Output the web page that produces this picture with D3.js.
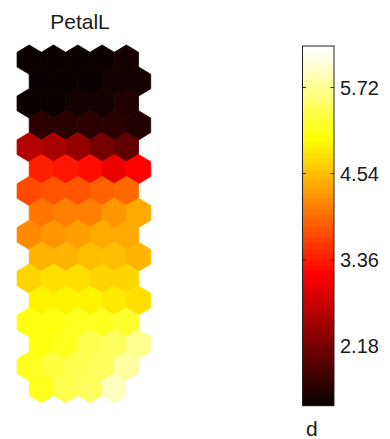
<!DOCTYPE html>
<html>
<head>
<meta charset="utf-8">
<script src="https://cdn.jsdelivr.net/npm/d3@7"></script>
<style>
  body { margin: 0; background: #fff; }
  svg { display: block; }
  .bar rect { shape-rendering: crispEdges; }
  text { font-family: "Liberation Sans", Arial, sans-serif; fill: #1a1a1a; }
</style>
</head>
<body>
<div id="chart"></div>
<script>
// component plane "PetalL", 16 rows x 5 columns, hexagonal SOM grid
var title = "PetalL";
var unitLabel = "d";
var row01 = [1.40, 1.40, 1.38, 1.40, 1.50];
var row02 = [1.40, 1.40, 1.42, 1.48, 1.50];
var row03 = [1.38, 1.40, 1.50, 1.50, 1.52];
var row04 = [1.66, 1.62, 1.60, 1.60, 1.58];
var row05 = [2.64, 2.52, 2.36, 2.16, 2.02];
var row06 = [3.38, 3.33, 3.22, 3.05, 3.20];
var row07 = [3.73, 3.77, 3.80, 3.86, 3.95];
var row08 = [4.00, 4.06, 4.10, 4.21, 4.37];
var row09 = [4.19, 4.28, 4.32, 4.41, 4.44];
var row10 = [4.47, 4.50, 4.52, 4.52, 4.50];
var row11 = [4.74, 4.77, 4.79, 4.68, 4.68];
var row12 = [4.95, 4.93, 4.92, 4.84, 4.78];
var row13 = [5.12, 5.12, 5.17, 5.20, 5.24];
var row14 = [5.13, 5.17, 5.41, 5.48, 5.71];
var row15 = [5.17, 5.33, 5.37, 5.48, 5.79];
var row16 = [5.17, 5.37, 5.48, 5.92, 6.29];
var rows = [row01, row02, row03, row04, row05, row06, row07, row08,
            row09, row10, row11, row12, row13, row14, row15, row16];
var valueRange = [1.357, 6.29];
var tickValues = [2.18, 3.36, 4.54, 5.72];

var width = 390, height = 439;

var svg = d3.select("#chart")
  .append("svg")
    .attr("width", width)
    .attr("height", height);

// MATLAB hot(64)
var m = 64, n = 24;
var hot = d3.range(m).map(function(i) {
  var r = Math.min(1, (i + 1) / n),
      g = Math.max(0, Math.min(1, (i + 1 - n) / n)),
      b = Math.max(0, Math.min(1, (i + 1 - 2 * n) / (m - 2 * n)));
  return d3.rgb(r * 255, g * 255, b * 255).formatHex();
});
var color = function(v) {
  var t = (v - valueRange[0]) / (valueRange[1] - valueRange[0]);
  var i = Math.floor(t * m);
  return hot[Math.max(0, Math.min(m - 1, i))];
};

// grid scales
var x = d3.scaleLinear().domain([0, 4]).range([29.2, 126.4]),
    y = d3.scaleLinear().domain([0, 15]).range([59.6, 388.1]);
var hw = (x(1) - x(0)) / 2,   // half width
    rv = (y(1) - y(0)) / 1.5; // vertical radius

var hexPath = function(cx, cy) {
  var pts = [[0, -rv], [hw, -rv / 2], [hw, rv / 2], [0, rv], [-hw, rv / 2], [-hw, -rv / 2]];
  return "M" + pts.map(function(p) { return (cx + p[0]) + "," + (cy + p[1]); }).join("L") + "Z";
};

var cells = [];
rows.forEach(function(row, r) {
  row.forEach(function(v, c) {
    cells.push({r: r, c: c, v: v});
  });
});

svg.append("g")
  .selectAll("path")
  .data(cells)
  .enter().append("path")
    .attr("class", "hex")
    .attr("d", function(d) { return hexPath(x(d.c + (d.r % 2 ? 0.5 : 0)), y(d.r)); })
    .attr("fill", function(d) { return color(d.v); })
    .attr("stroke", function(d) { return color(d.v); })
    .attr("stroke-width", 0.8);

svg.append("text")
  .attr("x", 80)
  .attr("y", 29)
  .attr("text-anchor", "middle")
  .attr("font-size", 21)
  .text(title);

// colorbar
var barX = 302.5, barW = 31.5;
var cy = d3.scaleLinear().domain(valueRange).range([405.7, 46]);
var step = (valueRange[1] - valueRange[0]) / m;

svg.append("g")
  .attr("class", "bar")
  .selectAll("rect")
  .data(hot)
  .enter().append("rect")
    .attr("x", barX)
    .attr("width", barW)
    .attr("y", function(d, i) { return cy(valueRange[0] + (i + 1) * step); })
    .attr("height", function(d, i) { return cy(valueRange[0] + i * step) - cy(valueRange[0] + (i + 1) * step) + 0.5; })
    .attr("fill", function(d) { return d; });

svg.append("rect")
  .attr("x", barX)
  .attr("y", cy(valueRange[1]))
  .attr("width", barW)
  .attr("height", cy(valueRange[0]) - cy(valueRange[1]))
  .attr("fill", "none")
  .attr("stroke", "#222")
  .attr("stroke-width", 1);

var ticks = svg.append("g")
  .selectAll("g")
  .data(tickValues)
  .enter().append("g")
    .attr("transform", function(d) { return "translate(0," + cy(d) + ")"; });

ticks.append("line")
  .attr("x1", barX).attr("x2", barX + 3.5)
  .attr("stroke", "#222");
ticks.append("line")
  .attr("x1", barX + barW).attr("x2", barX + barW - 3.5)
  .attr("stroke", "#222");
ticks.append("text")
  .attr("x", 340)
  .attr("dy", "0.36em")
  .attr("font-size", 20)
  .text(function(d) { return d3.format(".2f")(d); });

svg.append("text")
  .attr("x", 306)
  .attr("y", 436)
  .attr("font-size", 21)
  .text(unitLabel);
</script>
</body>
</html>
